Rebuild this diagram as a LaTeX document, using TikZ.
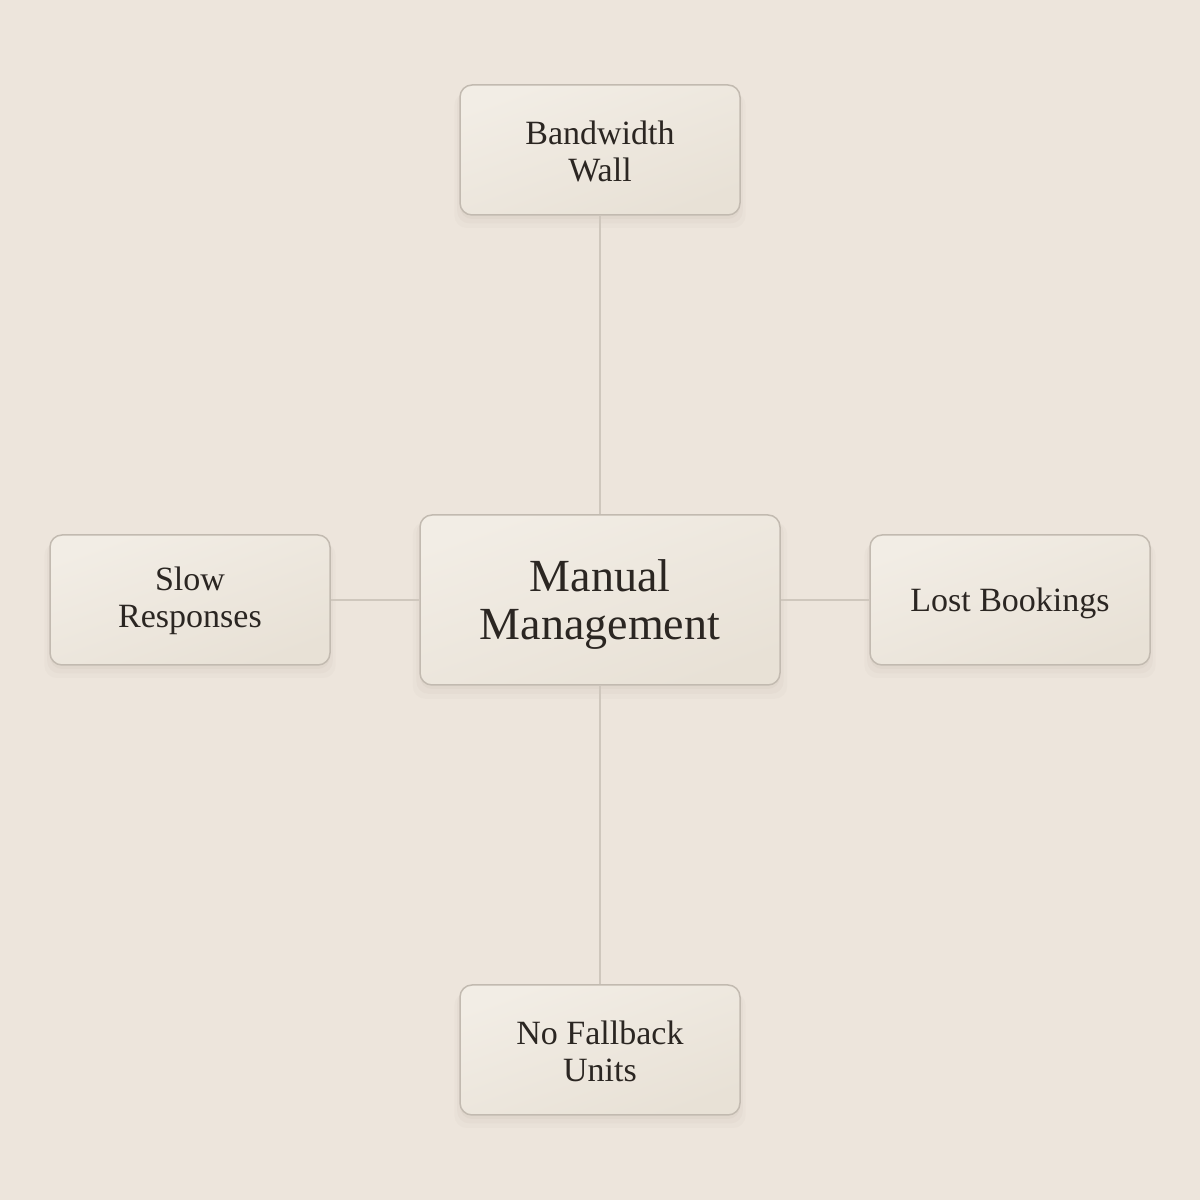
\documentclass[tikz,border=0pt]{standalone}
\usepackage{fontspec}
\setmainfont{Liberation Serif}
\usetikzlibrary{shadows}
\definecolor{bg}{HTML}{EDE5DC}
\definecolor{boxtop}{HTML}{F2EDE5}
\definecolor{boxbot}{HTML}{E8E1D6}
\definecolor{boxline}{HTML}{C2BAB0}
\definecolor{conn}{HTML}{CFC7BD}
\definecolor{ink}{HTML}{2B2622}
\definecolor{shade}{HTML}{8A7A66}
\tikzset{
  box/.style={draw=boxline, line width=1.5pt, rounded corners=12pt,
    top color=boxtop, bottom color=boxbot, shading angle=20,
    inner sep=0pt,
    drop shadow={shadow xshift=0pt, shadow yshift=-10pt, shadow scale=1.04, fill=shade, opacity=.03},
    drop shadow={shadow xshift=0pt, shadow yshift=-7pt, shadow scale=1.02, fill=shade, opacity=.04},
    drop shadow={shadow xshift=0pt, shadow yshift=-4pt, shadow scale=1.0, fill=shade, opacity=.05}},
  smallbox/.style={box, minimum width=280pt, minimum height=130pt},
  bigbox/.style={box, minimum width=360pt, minimum height=170pt},
  smalltext/.style={text=ink, align=center, inner sep=0pt, font=\fontsize{34}{37}\selectfont},
  bigtext/.style={text=ink, align=center, inner sep=0pt, font=\fontsize{46}{48}\selectfont},
  link/.style={draw=conn, line width=1.5pt}
}
\begin{document}
\begin{tikzpicture}[x=1pt,y=1pt]
\fill[bg] (0,0) rectangle (1200,1200);
\useasboundingbox (0,0) rectangle (1200,1200);
\node[bigbox, label={[bigtext, yshift=-5pt]center:Manual\\Management}] (center) at (600,600) {};
\node[smallbox, label={[smalltext, yshift=-1pt]center:Bandwidth\\Wall}] (top) at (600,1050) {};
\node[smallbox, label={[smalltext, yshift=-1pt]center:Slow\\Responses}] (left) at (190,600) {};
\node[smallbox, label={[smalltext, yshift=-3pt]center:Lost Bookings}] (right) at (1010,600) {};
\node[smallbox, label={[smalltext, yshift=-1pt]center:No Fallback\\Units}] (bottom) at (600,150) {};
\draw[link] (center.north) -- (top.south);
\draw[link] (center.west) -- (left.east);
\draw[link] (center.east) -- (right.west);
\draw[link] (center.south) -- (bottom.north);
\end{tikzpicture}
\end{document}
